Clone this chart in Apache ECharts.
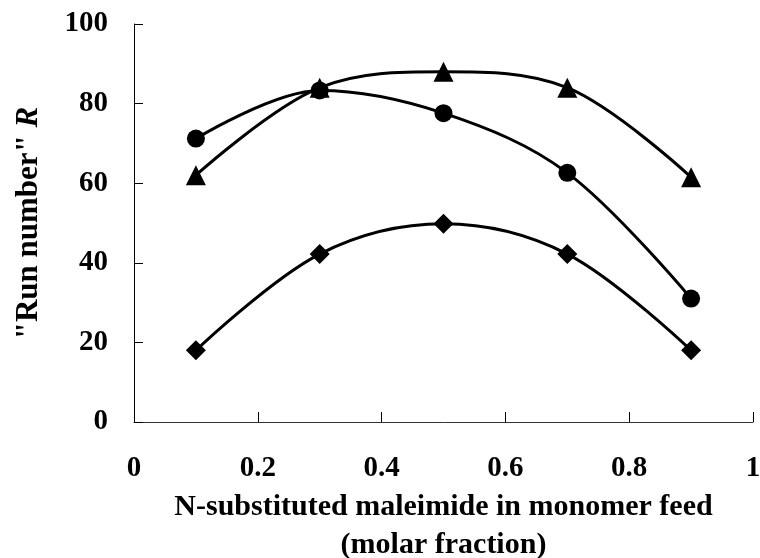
<!DOCTYPE html>
<html>
<head>
<meta charset="utf-8">
<script src="https://cdn.jsdelivr.net/npm/echarts@6/dist/echarts.min.js"></script>
<style>html,body{margin:0;padding:0;background:#fff}#c{width:760px;height:558px}</style>
</head>
<body>
<div id="c"></div>
<script>
const xValues = [0.1, 0.3, 0.5, 0.7, 0.9];
const triangleValues = [62, 84, 88, 84, 61.5];
const circleValues = [71.2, 83.3, 77.6, 62.6, 31];
const diamondValues = [18, 42.2, 49.8, 42.2, 18];
const xTickLabels = ['0', '0.2', '0.4', '0.6', '0.8', '1'];
const yTickLabels = ['0', '20', '40', '60', '80', '100'];

const font = '"Liberation Serif", "Times New Roman", serif';
function pairs(vals) { return xValues.map((x, i) => [x, vals[i]]); }
function mk(name, vals, symbol, size) {
  return {
    name, type: 'line', data: pairs(vals), smooth: 0.35,
    symbol, symbolSize: size,
    lineStyle: { color: '#000', width: 3 },
    itemStyle: { color: '#000' }
  };
}
const chart = echarts.init(document.getElementById('c'), null, { renderer: 'canvas' });
chart.setOption({
  animation: false,
  backgroundColor: '#fff',
  grid: { left: 134, right: 7, top: 24, bottom: 136, containLabel: false, outerBoundsMode: 'none' },
  xAxis: {
    type: 'value', min: 0, max: 1, interval: 0.2,
    axisLine: { lineStyle: { color: '#333', width: 1 } },
    axisTick: { inside: true, length: 10, lineStyle: { color: '#000' } },
    splitLine: { show: false },
    axisLabel: {
      margin: 32, color: '#000', fontFamily: font, fontWeight: 'bold', fontSize: 29,
      formatter: v => xTickLabels[Math.round(v / 0.2)]
    },
    name: 'N-substituted maleimide in monomer feed\n(molar fraction)',
    nameLocation: 'middle', nameGap: 63,
    nameTextStyle: { color: '#000', fontFamily: font, fontWeight: 'bold', fontSize: 30, lineHeight: 38 }
  },
  yAxis: {
    type: 'value', min: 0, max: 100, interval: 20,
    axisLine: { show: true, lineStyle: { color: '#000', width: 1 } },
    axisTick: { show: true, inside: true, length: 9, lineStyle: { color: '#000' } },
    splitLine: { show: false },
    axisLabel: {
      margin: 26, color: '#000', fontFamily: font, fontWeight: 'bold', fontSize: 29,
      formatter: v => yTickLabels[Math.round(v / 20)]
    },
    name: '{a|"Run number" }{b|R}',
    nameLocation: 'middle', nameGap: 90, nameRotate: 90,
    nameTextStyle: {
      rich: {
        a: { color: '#000', fontFamily: font, fontWeight: 'bold', fontSize: 31 },
        b: { color: '#000', fontFamily: font, fontWeight: 'bold', fontStyle: 'italic', fontSize: 31 }
      }
    }
  },
  series: [
    mk('triangle', triangleValues, 'triangle', 20),
    mk('circle', circleValues, 'circle', 18),
    mk('diamond', diamondValues, 'diamond', 20)
  ]
});
</script>
</body>
</html>
